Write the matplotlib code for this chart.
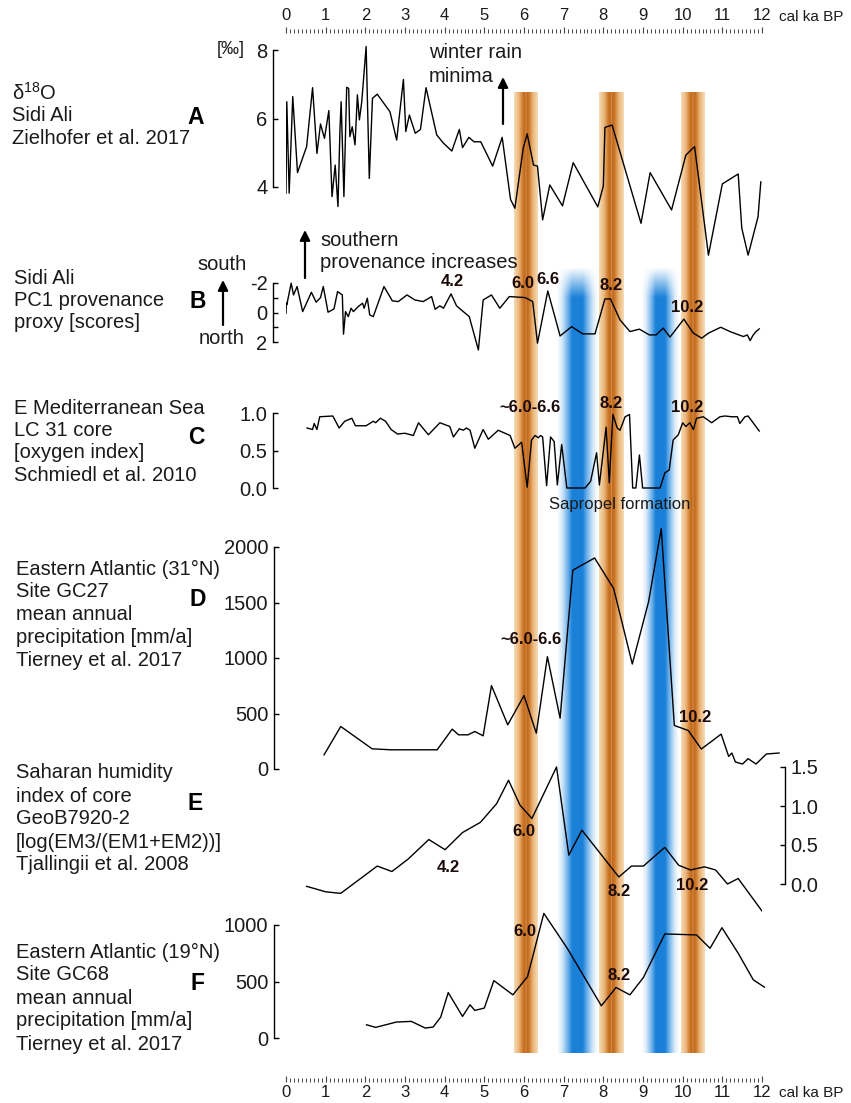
import numpy as np
import matplotlib
matplotlib.use('Agg')
import matplotlib.pyplot as plt
from matplotlib.colors import LinearSegmentedColormap

plt.rcParams['font.family'] = ['Liberation Sans', 'DejaVu Sans']
plt.rcParams['mathtext.fontset'] = 'custom'
plt.rcParams['mathtext.rm'] = 'Liberation Sans'

# ---- data (age in cal ka BP) ----
a_age = [0.0, 0.02, 0.08, 0.17, 0.29, 0.52, 0.67, 0.78, 0.87, 0.97, 1.08, 1.16, 1.24, 1.31, 1.36,
         1.39, 1.43, 1.46, 1.53, 1.58, 1.61, 1.67, 1.74, 1.80, 1.85, 1.91, 2.02, 2.10, 2.18, 2.30,
         2.62, 2.79, 2.96, 3.02, 3.11, 3.26, 3.39, 3.53, 3.80, 3.97, 4.18, 4.37, 4.45, 4.61, 4.74,
         4.91, 5.21, 5.45, 5.66, 5.77, 5.98, 6.08, 6.24, 6.34, 6.47, 6.65, 6.97, 7.24, 7.86, 8.00,
         8.04, 8.22, 8.95, 9.18, 9.72, 10.08, 10.30, 10.65, 11.00, 11.40, 11.49, 11.65, 11.90, 11.97]
a_d18o = [3.82, 6.49, 3.82, 6.64, 4.42, 5.18, 6.90, 4.98, 5.84, 5.42, 6.23, 3.72, 4.64, 3.43, 5.66,
          6.49, 4.93, 3.72, 6.91, 6.88, 5.47, 5.76, 5.23, 6.69, 5.96, 6.49, 8.10, 4.25, 6.59, 6.71,
          6.20, 5.37, 7.14, 5.62, 6.10, 5.57, 5.68, 6.90, 5.52, 5.28, 5.05, 5.68, 5.15, 5.45, 5.32,
          5.32, 4.61, 5.45, 3.64, 3.38, 5.13, 5.55, 4.64, 4.61, 3.04, 4.06, 3.45, 4.71, 3.42, 4.03,
          5.74, 5.81, 2.94, 4.42, 3.33, 4.93, 5.18, 2.01, 4.09, 4.38, 2.80, 2.01, 3.13, 4.15]

b_age = [0.0, 0.01, 0.02, 0.13, 0.19, 0.28, 0.42, 0.64, 0.76, 0.87, 0.94, 1.06, 1.21, 1.30, 1.42,
         1.45, 1.50, 1.57, 1.64, 1.70, 1.82, 1.93, 1.97, 2.05, 2.11, 2.20, 2.47, 2.68, 2.83, 3.05,
         3.25, 3.46, 3.67, 3.76, 3.88, 3.97, 4.16, 4.30, 4.47, 4.62, 4.85, 4.97, 5.18, 5.39, 5.63,
         6.03, 6.22, 6.34, 6.60, 6.91, 7.20, 7.48, 7.79, 8.04, 8.18, 8.42, 8.67, 8.91, 9.16, 9.33,
         9.51, 9.68, 10.03, 10.27, 10.48, 10.65, 10.96, 11.19, 11.53, 11.63, 11.70, 11.78, 11.85, 11.93]
b_pc1 = [0.05, -0.63, -0.52, -1.99, -1.19, -1.76, -0.06, -1.37, -0.70, -1.01, -1.76, -0.02, -0.24, -1.42, -1.19,
         1.47, -0.06, 0.28, -0.29, -0.06, -0.40, -0.63, -0.29, -0.97, 0.16, 0.28, -1.76, -0.79, -0.74, -1.19,
         -0.85, -0.74, -1.08, -0.22, -0.45, -0.29, -1.26, -0.45, -0.06, 0.28, 2.54, -0.85, -1.19, -0.29, -1.08,
         -1.01, -0.74, 2.08, -1.46, 1.59, 0.96, 1.45, 1.45, -0.92, -0.92, 0.50, 1.29, 1.13, 1.52, 1.52,
         1.06, 1.67, 0.45, 1.40, 1.74, 1.40, 1.00, 1.29, 1.63, 1.52, 1.90, 1.52, 1.29, 1.11]

c_age = [0.53, 0.67, 0.71, 0.78, 0.85, 1.18, 1.34, 1.48, 1.66, 1.75, 2.02, 2.20, 2.26, 2.38, 2.51,
         2.65, 2.81, 3.00, 3.21, 3.34, 3.59, 3.88, 4.13, 4.22, 4.37, 4.47, 4.55, 4.64, 4.76, 4.97,
         5.10, 5.35, 5.65, 5.77, 5.94, 6.08, 6.19, 6.28, 6.36, 6.42, 6.47, 6.57, 6.67, 6.76, 6.84,
         6.95, 7.08, 7.54, 7.68, 7.83, 7.90, 8.07, 8.15, 8.24, 8.35, 8.42, 8.55, 8.66, 8.74, 8.82,
         8.91, 8.99, 9.43, 9.55, 9.66, 9.76, 9.89, 10.00, 10.08, 10.18, 10.27, 10.35, 10.52, 10.73, 10.94,
         11.07, 11.23, 11.38, 11.44, 11.57, 11.65, 11.93]
c_oxy = [0.80, 0.78, 0.86, 0.78, 0.95, 0.96, 0.80, 0.89, 0.93, 0.83, 0.83, 0.89, 0.87, 0.93, 0.89,
         0.78, 0.72, 0.73, 0.70, 0.87, 0.71, 0.87, 0.82, 0.68, 0.79, 0.77, 0.80, 0.77, 0.53, 0.78,
         0.65, 0.77, 0.70, 0.53, 0.61, 0.01, 0.64, 0.70, 0.67, 0.70, 0.68, 0.03, 0.68, 0.62, 0.04,
         0.58, 0.0, 0.0, 0.09, 0.47, 0.04, 0.81, 0.07, 0.98, 0.80, 0.77, 0.95, 0.98, 0.0, 0.0,
         0.44, 0.0, 0.0, 0.20, 0.24, 0.64, 0.71, 0.87, 0.82, 0.87, 0.78, 0.93, 0.95, 0.87, 0.95,
         0.96, 0.95, 0.95, 0.86, 0.95, 0.96, 0.76]

d_age = [0.96, 1.38, 2.17, 2.64, 3.81, 4.19, 4.35, 4.59, 4.76, 4.97, 5.18, 5.59, 6.00, 6.31, 6.59,
         6.91, 7.23, 7.78, 8.26, 8.73, 9.14, 9.46, 9.79, 10.14, 10.47, 10.97, 11.16, 11.24, 11.33, 11.51,
         11.65, 11.85, 12.11, 12.43]
d_prec = [128, 383, 182, 173, 173, 359, 308, 308, 338, 299, 751, 398, 661, 323, 1012,
          458, 1791, 1901, 1626, 946, 1506, 2165, 392, 347, 180, 314, 113, 144, 63, 45,
          93, 45, 135, 144]

e_age = [0.52, 1.00, 1.38, 2.30, 2.67, 3.08, 3.60, 4.01, 4.45, 4.90, 5.31, 5.61, 5.90, 6.20, 6.82,
         7.13, 7.46, 8.39, 8.71, 9.01, 9.55, 9.90, 10.20, 10.55, 10.83, 11.13, 11.40, 12.02]
e_hum = [-0.03, -0.10, -0.12, 0.23, 0.16, 0.32, 0.57, 0.44, 0.66, 0.79, 1.03, 1.33, 1.01, 0.84, 1.50,
         0.37, 0.69, 0.09, 0.23, 0.23, 0.47, 0.24, 0.18, 0.22, 0.18, 0.0, 0.07, -0.36]

f_age = [2.03, 2.26, 2.78, 3.16, 3.51, 3.71, 3.90, 4.09, 4.45, 4.64, 4.76, 5.00, 5.24, 5.72, 6.09,
         6.50, 7.09, 7.95, 8.32, 8.67, 9.01, 9.55, 10.35, 10.69, 10.99, 11.40, 11.78, 12.06]
f_prec = [117, 94, 141, 147, 88, 97, 185, 402, 191, 294, 244, 265, 508, 382, 544,
          1103, 794, 285, 447, 382, 535, 921, 912, 794, 976, 750, 515, 450]

orange_bands = [(5.75, 6.35), (7.89, 8.52), (9.96, 10.56)]
blue_bands = [(6.83, 7.84), (8.97, 9.88)]

# ---- layout (pixels) ----
W, H = 851, 1103
X0, X1 = 286, 762          # pixel x of 0 and 12 ka
fig = plt.figure(figsize=(W / 100, H / 100), dpi=100)
PT = 0.72                  # points per pixel at 100 dpi

# background bands
bax = fig.add_axes([X0 / W, 0, (X1 - X0) / W, 1])
bax.axis('off')
orange_cm = LinearSegmentedColormap.from_list('or', [
    (0.0, '#f6dcb8'), (0.2, '#ebb77c'), (0.38, '#cc7626'), (0.47, '#bb651c'),
    (0.5, '#e6a466'), (0.53, '#bb651c'), (0.62, '#cc7626'), (0.8, '#ebb77c'), (1.0, '#f6dcb8')])
blue_cm = LinearSegmentedColormap.from_list('bl', [
    (0.0, '#ffffff'), (0.12, '#d4e8f8'), (0.27, '#6aaeea'), (0.37, '#1a80d8'),
    (0.63, '#1a80d8'), (0.73, '#6aaeea'), (0.88, '#d4e8f8'), (1.0, '#ffffff')])


def band(t0, t1, cmap, ytop, ybot, fade=0):
    row = cmap(np.linspace(0, 1, 200))
    ny = int(ybot - ytop)
    img = np.tile(row[None, :, :], (ny, 1, 1))
    if fade:
        img[..., 3] = np.clip(np.arange(ny) / fade, 0, 1)[:, None]
    bax.imshow(img, extent=(t0, t1, ybot, ytop), aspect='auto', interpolation='bilinear')


for t0, t1 in blue_bands:
    band(t0, t1, blue_cm, 267, 1053, fade=30)
for t0, t1 in orange_bands:
    band(t0, t1, orange_cm, 92, 1053)
bax.set_xlim(0, 12)
bax.set_ylim(H, 0)


def panel(ytop, ybot, va, ya, vb, yb):
    s = (vb - va) / (yb - ya)
    ax = fig.add_axes([X0 / W, 1 - ybot / H, (X1 - X0) / W, (ybot - ytop) / H])
    ax.set_xlim(0, 12)
    ax.set_ylim(va + s * (ybot - ya), va + s * (ytop - ya))
    ax.patch.set_visible(False)
    for sp in ax.spines.values():
        sp.set_visible(False)
    ax.set_xticks([])
    return ax


def yaxis(ax, ticks, labels, side='left', off=13):
    sp = ax.spines[side]
    sp.set_visible(True)
    sp.set_position(('outward', off * PT))
    sp.set_bounds(min(ticks), max(ticks))
    sp.set_linewidth(1.0)
    if side == 'right':
        ax.yaxis.tick_right()
    ax.set_yticks(ticks)
    ax.set_yticklabels(labels)
    ax.tick_params(axis='y', direction='in', length=5 * PT, width=1.0, pad=4, labelsize=14.5,
                   labelcolor='#1a1a1a')


LW = 1.0
axA = panel(40, 262, 8, 50, 4, 187)
axA.plot(a_age, a_d18o, color='k', lw=LW)
yaxis(axA, [4, 6, 8], ['4', '6', '8'])

axB = panel(268, 362, -2, 283, 2, 342)
axB.plot(b_age, b_pc1, color='k', lw=LW)
yaxis(axB, [-2, -1, 0, 1, 2], ['-2', '', '0', '', '2'])

axC = panel(398, 496, 1.0, 413, 0.0, 488)
axC.plot(c_age, c_oxy, color='k', lw=LW)
yaxis(axC, [0, 0.5, 1.0], ['0.0', '0.5', '1.0'])

axD = panel(540, 776, 2000, 547, 0, 769)
axD.plot(d_age, d_prec, color='k', lw=LW, clip_on=False)
yaxis(axD, [0, 500, 1000, 1500, 2000], ['0', '500', '1000', '1500', '2000'], off=12)

axE = panel(760, 916, 1.5, 767, 0.0, 884)
axE.plot(e_age, e_hum, color='k', lw=LW)
yaxis(axE, [0, 0.5, 1.0, 1.5], ['0.0', '0.5', '1.0', '1.5'], side='right', off=23)

axF = panel(915, 1046, 1000, 925, 0, 1038)
axF.plot(f_age, f_prec, color='k', lw=LW, clip_on=False)
yaxis(axF, [0, 500, 1000], ['0', '500', '1000'], off=12)

# rulers
for ybase, top in [(34, True), (1082, False)]:
    r = fig.add_axes([X0 / W, 1 - ybase / H, (X1 - X0) / W, 0.001])
    r.patch.set_visible(False)
    for sp in r.spines.values():
        sp.set_visible(False)
    r.set_yticks([])
    r.set_xlim(0, 12)
    r.set_xticks(range(13))
    r.set_xticks(np.arange(0, 12.01, 0.1), minor=True)
    if top:
        r.xaxis.tick_top()
        r.tick_params(axis='x', which='both', direction='out', labelsize=12, pad=3, color='#444')
    else:
        r.tick_params(axis='x', which='both', direction='in', labelsize=12, pad=2, color='#444')
    r.tick_params(axis='x', which='major', length=6 * PT, width=0.8, labelcolor='#1a1a1a')
    r.tick_params(axis='x', which='minor', length=4 * PT, width=0.7)

# text overlay in pixel coordinates
ov = fig.add_axes([0, 0, 1, 1])
ov.set_xlim(0, W)
ov.set_ylim(H, 0)
ov.axis('off')
ov.patch.set_visible(False)

TC = '#1a1a1a'
TS = 14.5


def lines(x, y0, rows, dy=22.5, size=TS):
    for i, s in enumerate(rows):
        ov.text(x, y0 + i * dy, s, fontsize=size, color=TC, va='center', ha='left')


def letter(x, y, s):
    ov.text(x, y, s, fontsize=16.5, fontweight='bold', color='k', va='center', ha='center')


def num(x, y, s):
    ov.text(x, y, s, fontsize=12, fontweight='bold', color='#1c0a0a', va='center', ha='center')


def arrow(x, y0, y1):
    ov.annotate('', xy=(x, y1), xytext=(x, y0),
                arrowprops=dict(arrowstyle='-|>,head_length=0.6,head_width=0.3',
                                lw=1.6, color='k', shrinkA=0, shrinkB=0))


ov.text(779, 17, 'cal ka BP', fontsize=11, color=TC, va='center', ha='left')
ov.text(779, 1093, 'cal ka BP', fontsize=11, color=TC, va='center', ha='left')

lines(12, 93, [r'δ$^{18}$O', 'Sidi Ali', 'Zielhofer et al. 2017'], dy=22.5)
letter(196, 117, 'A')
ov.text(231, 50, '[‰]', fontsize=13, color=TC, va='center', ha='center')
ov.text(429, 53, 'winter rain', fontsize=TS, color=TC, va='center', ha='left')
ov.text(429, 76, 'minima', fontsize=TS, color=TC, va='center', ha='left')
arrow(503, 124, 77)

lines(14, 278, ['Sidi Ali', 'PC1 provenance', 'proxy [scores]'])
letter(198, 301, 'B')
ov.text(222, 265, 'south', fontsize=TS, color=TC, va='center', ha='center')
ov.text(222, 339, 'north', fontsize=TS, color=TC, va='center', ha='center')
arrow(223, 325, 280)
ov.text(320, 240, 'southern', fontsize=TS, color=TC, va='center', ha='left')
ov.text(320, 262, 'provenance increases', fontsize=TS, color=TC, va='center', ha='left')
arrow(305, 278, 230)
num(452, 282, '4.2')
num(523, 283, '6.0')
num(548, 280, '6.6')
num(611, 285, '8.2')
num(687, 307, '10.2')

lines(14, 408, ['E Mediterranean Sea', 'LC 31 core', '[oxygen index]', 'Schmiedl et al. 2010'])
letter(196, 437, 'C')
num(530, 408, '~6.0-6.6')
num(611, 403, '8.2')
num(687, 408, '10.2')
ov.text(620, 505, 'Sapropel formation', fontsize=12, color=TC, va='center', ha='center')

lines(16, 569, ['Eastern Atlantic (31°N)', 'Site GC27', 'mean annual',
                'precipitation [mm/a]', 'Tierney et al. 2017'], dy=22.8)
letter(198, 600, 'D')
num(531, 640, '~6.0-6.6')
num(695, 717, '10.2')

lines(16, 773, ['Saharan humidity', 'index of core', 'GeoB7920-2',
                '[log(EM3/(EM1+EM2))]', 'Tjallingii et al. 2008'], dy=23)
letter(195, 803, 'E')
num(448, 867, '4.2')
num(524, 832, '6.0')
num(619, 892, '8.2')
num(692, 885, '10.2')

lines(16, 952, ['Eastern Atlantic (19°N)', 'Site GC68', 'mean annual',
                'precipitation [mm/a]', 'Tierney et al. 2017'], dy=23)
letter(198, 983, 'F')
num(525, 932, '6.0')
num(619, 975, '8.2')

fig.savefig('out.png', dpi=100)
